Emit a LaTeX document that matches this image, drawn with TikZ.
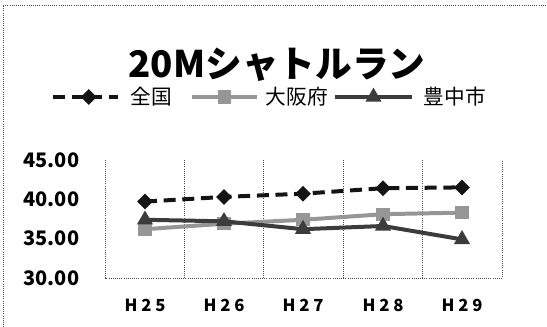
\documentclass[tikz,border=0pt]{standalone}
\usepackage{fontspec}
\setmainfont{Noto Sans CJK JP}
\usepackage{tikz}
\usetikzlibrary{shapes,shapes.geometric,positioning,calc}
\usepackage{xcolor}
\definecolor{zenkokuline}{RGB}{20,20,20}
\definecolor{osakaline}{RGB}{150,150,150}
\definecolor{toyonakaline}{RGB}{60,60,60}

\tikzset{
    gridline/.style={densely dotted, black!70, line width=0.6pt},
    zenkoku/.style={zenkokuline, line width=3pt, dash pattern=on 9pt off 5pt},
    osaka/.style={osakaline, line width=3pt},
    toyonaka/.style={toyonakaline, line width=3pt},
    diamondmark/.style={diamond, fill=zenkokuline, inner sep=0pt, minimum size=12pt},
    squaremark/.style={rectangle, fill=osakaline, inner sep=0pt, minimum size=10pt},
    trianglemark/.style={regular polygon, regular polygon sides=3, fill=toyonakaline, inner sep=0pt, minimum size=14pt},
    ticklabel/.style={font=\fontsize{15}{18}\selectfont\bfseries, anchor=east},
    catlabel/.style={font=\fontsize{12.5}{14}\selectfont\bfseries},
    legendtext/.style={font=\fontsize{15.5}{18}\selectfont, anchor=west}
}

\begin{document}
\begin{tikzpicture}[x=0.75pt, y=-0.75pt]
    \useasboundingbox (0,0) rectangle (547,327);
    % Outer chart frame
    \draw[gridline] (3,327) -- (3,5) -- (547,5);

    % Title
    \node[font=\fontsize{27.5}{32}\selectfont\bfseries] (title) at (277,65) {20Mシャトルラン};

    % Legend
    \coordinate (lg1a) at (53,97);  \coordinate (lg1b) at (118,97);
    \coordinate (lg2a) at (192,97); \coordinate (lg2b) at (257,97);
    \coordinate (lg3a) at (335,97); \coordinate (lg3b) at (412,97);
    \draw[zenkoku] (lg1a) -- (lg1b);
    \node[diamondmark] (lgm1) at ($(lg1a)!0.55!(lg1b)$) {};
    \node[legendtext] (lgt1) at (126,97) {全国};
    \draw[osaka] (lg2a) -- (lg2b);
    \node[squaremark] (lgm2) at ($(lg2a)!0.5!(lg2b)$) {};
    \node[legendtext] (lgt2) at (261,97) {大阪府};
    \draw[toyonaka] (lg3a) -- (lg3b);
    \node[trianglemark] (lgm3) at ($(lg3a)!0.5!(lg3b)$) {};
    \node[legendtext] (lgt3) at (419,97) {豊中市};

    % Plot area: y=30 at 278, y=45 at 160
    \draw[gridline] (105,160) -- (105,278) -- (502,278) -- (502,160);
    \draw[gridline] (184.4,160) -- (184.4,278);
    \draw[gridline] (263.8,160) -- (263.8,278);
    \draw[gridline] (343.2,160) -- (343.2,278);
    \draw[gridline] (422.6,160) -- (422.6,278);

    % Axis labels
    \node[ticklabel] (y45) at (84,160) {45.00};
    \node[ticklabel] (y40) at (84,199.3) {40.00};
    \node[ticklabel] (y35) at (84,238.7) {35.00};
    \node[ticklabel] (y30) at (84,278) {30.00};
    \node[catlabel] (h25) at (145,305) {H 2 5};
    \node[catlabel] (h26) at (224,305) {H 2 6};
    \node[catlabel] (h27) at (303,305) {H 2 7};
    \node[catlabel] (h28) at (383,305) {H 2 8};
    \node[catlabel] (h29) at (462,305) {H 2 9};

    % Data points (value v -> y = 278 - 7.87*(v-30))
    \coordinate (z25) at (145,201.6); \coordinate (z26) at (224,196.9);
    \coordinate (z27) at (303,193.7); \coordinate (z28) at (383,188.2);
    \coordinate (z29) at (462,187.4);
    \coordinate (o25) at (145,229.2); \coordinate (o26) at (224,223.7);
    \coordinate (o27) at (303,219.8); \coordinate (o28) at (383,214.2);
    \coordinate (o29) at (462,212.6);
    \coordinate (t25) at (145,219.8); \coordinate (t26) at (224,221.3);
    \coordinate (t27) at (303,229.2); \coordinate (t28) at (383,226.0);
    \coordinate (t29) at (462,239.4);

    % 大阪府
    \draw[osaka] (o25) -- (o26) -- (o27) -- (o28) -- (o29);
    \node[squaremark] at (o25) {}; \node[squaremark] at (o26) {};
    \node[squaremark] at (o27) {}; \node[squaremark] at (o28) {};
    \node[squaremark] at (o29) {};
    % 豊中市
    \draw[toyonaka] (t25) -- (t26) -- (t27) -- (t28) -- (t29);
    \node[trianglemark] at (t25) {}; \node[trianglemark] at (t26) {};
    \node[trianglemark] at (t27) {}; \node[trianglemark] at (t28) {};
    \node[trianglemark] at (t29) {};
    % 全国
    \draw[zenkoku] (z25) -- (z26) -- (z27) -- (z28) -- (z29);
    \node[diamondmark] at (z25) {}; \node[diamondmark] at (z26) {};
    \node[diamondmark] at (z27) {}; \node[diamondmark] at (z28) {};
    \node[diamondmark] at (z29) {};
\end{tikzpicture}
\end{document}
